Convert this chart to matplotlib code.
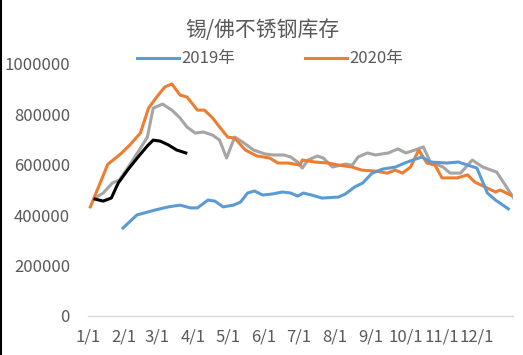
import matplotlib
matplotlib.use("Agg")
import matplotlib.pyplot as plt
from matplotlib.lines import Line2D

plt.rcParams['font.family'] = ['Noto Sans CJK SC', 'DejaVu Sans']

TITLE = "锡/佛不锈钢库存"
TEXT_COLOR = "#595959"

# x = day of year (1/1 = 0)
month_days = [0, 31, 59, 90, 120, 151, 181, 212, 243, 273, 304, 334]
month_labels = ["1/1", "2/1", "3/1", "4/1", "5/1", "6/1", "7/1", "8/1", "9/1", "10/1", "11/1", "12/1"]

# 2019年
days_2019 = [30, 42, 58, 69, 79, 88, 94, 103, 109, 116, 125, 131, 137, 143, 150, 158, 167,
             174, 180, 185, 192, 201, 215, 221, 229, 236, 244, 253, 264, 272, 279, 287, 294,
             308, 318, 326, 334, 343, 350, 361]
vals_2019 = [349000, 401000, 421000, 433000, 440000, 429000, 429000, 460000, 456000, 433000,
             440000, 452000, 488000, 496000, 480000, 484000, 492000, 488000, 476000, 488000,
             480000, 468000, 472000, 484000, 512000, 528000, 567000, 583000, 591000, 607000,
             619000, 631000, 611000, 607000, 611000, 599000, 587000, 488000, 460000, 425000]

# 2020年
days_2020 = [2, 17, 28, 36, 45, 52, 59, 66, 72, 79, 85, 94, 100, 107, 113, 120, 126, 135,
             145, 156, 163, 172, 182, 184, 195, 206, 215, 227, 235, 247, 257, 264, 270, 277,
             284, 291, 298, 304, 317, 326, 332, 341, 350, 354, 363]
vals_2020 = [433000, 602000, 643000, 679000, 726000, 825000, 869000, 909000, 921000, 877000,
             869000, 817000, 817000, 786000, 750000, 710000, 706000, 659000, 635000, 627000,
             607000, 607000, 599000, 619000, 611000, 607000, 599000, 591000, 579000, 575000,
             567000, 579000, 567000, 591000, 659000, 607000, 599000, 548000, 548000, 560000,
             532000, 512000, 492000, 500000, 480000]

# grey series (no legend entry)
days_grey = [6, 13, 21, 27, 34, 43, 51, 56, 64, 72, 79, 85, 92, 99, 107, 113, 119, 126, 133,
             142, 152, 159, 168, 174, 180, 184, 189, 197, 202, 210, 221, 227, 232, 240, 247,
             258, 266, 273, 281, 288, 294, 305, 311, 320, 330, 339, 351, 360, 366]
vals_grey = [468000, 488000, 528000, 540000, 587000, 651000, 710000, 825000, 841000, 817000,
             786000, 750000, 726000, 730000, 718000, 698000, 627000, 710000, 690000, 659000,
             643000, 639000, 639000, 631000, 611000, 587000, 619000, 635000, 627000, 591000,
             603000, 599000, 631000, 647000, 639000, 647000, 663000, 647000, 659000, 671000,
             611000, 591000, 567000, 567000, 619000, 591000, 571000, 508000, 464000]

# black series (no legend entry)
days_black = [6, 13, 20, 26, 34, 43, 51, 56, 62, 69, 76, 84]
vals_black = [464000, 456000, 468000, 528000, 579000, 631000, 675000, 698000, 694000,
              679000, 659000, 647000]

fig = plt.figure(figsize=(5.23, 3.55), dpi=100)
ax = fig.add_axes([88 / 523, 39 / 355, 425 / 523, 252 / 355])

ax.plot(days_grey, vals_grey, color="#A5A5A5", lw=2.2)
ax.plot(days_2020, vals_2020, color="#ED7D31", lw=2.2, label="2020年")
ax.plot(days_2019, vals_2019, color="#5B9BD5", lw=2.2, label="2019年")
ax.plot(days_black, vals_black, color="black", lw=2.2)

ax.set_xlim(0, 365)
ax.set_ylim(0, 1000000)
ax.set_yticks(range(0, 1000001, 200000))
ax.set_yticklabels([str(v) for v in range(0, 1000001, 200000)])
ax.set_xticks(month_days)
ax.set_xticklabels(month_labels)

for s in ["top", "right", "left"]:
    ax.spines[s].set_visible(False)
ax.spines["bottom"].set_color("#D9D9D9")
ax.spines["bottom"].set_linewidth(1.0)
ax.tick_params(axis="y", length=0, pad=13, labelsize=12, labelcolor=TEXT_COLOR)
ax.tick_params(axis="x", length=0, pad=9, labelsize=12, labelcolor=TEXT_COLOR)

handles, labels = ax.get_legend_handles_labels()
order = [labels.index("2019年"), labels.index("2020年")]
ax.legend([handles[i] for i in order], [labels[i] for i in order],
          loc="center", bbox_to_anchor=(0.428, 1.02), ncol=2, frameon=False,
          fontsize=12, labelcolor=TEXT_COLOR, handlelength=2.5, handletextpad=0.15,
          columnspacing=4.2, borderaxespad=0)

fig.text(262 / 523, 1 - 30 / 355, TITLE, ha="center", va="center", fontsize=15, color=TEXT_COLOR)

fig.add_artist(Line2D([0.002, 0.002], [0, 1], color="black", lw=1.5, transform=fig.transFigure))

fig.savefig("out.png", dpi=100)
